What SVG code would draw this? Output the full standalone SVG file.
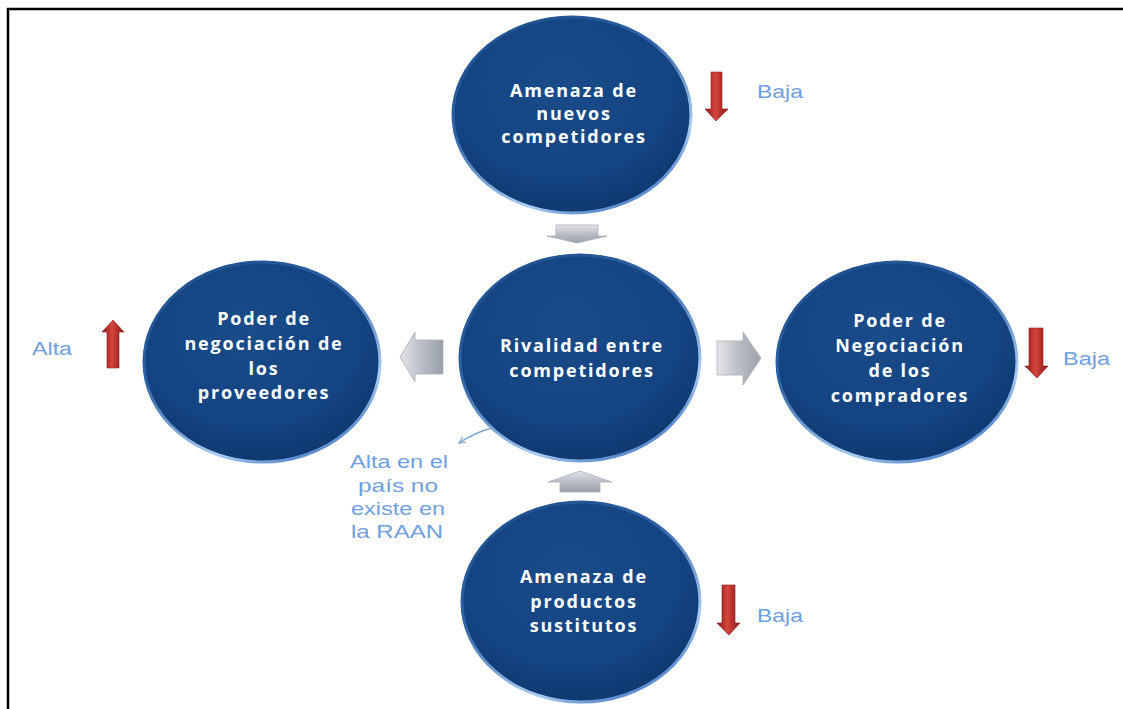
<svg xmlns="http://www.w3.org/2000/svg" width="1123" height="709" viewBox="0 0 1123 709">
<defs>
<style>
.node-fill{fill:url(#bluefill);stroke:url(#rim);stroke-width:3}
.ntxt{font-family:"Open Sans","Liberation Sans",sans-serif;font-weight:bold;font-size:18px;fill:#ffffff;text-anchor:middle;letter-spacing:1.8px}
.lbl{font-family:"Liberation Sans",Arial,sans-serif;font-size:18.5px;fill:#6f9fe0}
.gray{fill:url(#grayfill);stroke:#a9aeb7;stroke-width:0.8}
.red{fill:url(#redfill);stroke:#8e1c1c;stroke-width:0.6}
</style>
<radialGradient id="bluefill" cx="0.45" cy="0.35" r="0.7">
<stop offset="0" stop-color="#1a4c8a"/>
<stop offset="0.7" stop-color="#134380"/>
<stop offset="1" stop-color="#0d366d"/>
</radialGradient>
<linearGradient id="rim" x1="0" y1="0" x2="0.6" y2="1">
<stop offset="0" stop-color="#1a4a86"/>
<stop offset="0.45" stop-color="#2f63a6"/>
<stop offset="0.85" stop-color="#a9cdf2"/>
<stop offset="1" stop-color="#5f8fcf"/>
</linearGradient>
<linearGradient id="grayfill" x1="0" y1="0" x2="0" y2="1">
<stop offset="0" stop-color="#e3e5e9"/>
<stop offset="0.5" stop-color="#b9bdc5"/>
<stop offset="1" stop-color="#9aa0aa"/>
</linearGradient>
<linearGradient id="grayfillH" x1="0" y1="0" x2="1" y2="0">
<stop offset="0" stop-color="#e3e5e9"/>
<stop offset="0.5" stop-color="#b9bdc5"/>
<stop offset="1" stop-color="#9aa0aa"/>
</linearGradient>
<linearGradient id="redfill" x1="0" y1="0" x2="1" y2="0">
<stop offset="0" stop-color="#8a1616"/>
<stop offset="0.45" stop-color="#d4463c"/>
<stop offset="1" stop-color="#8a1616"/>
</linearGradient>
<marker id="openhead" viewBox="0 0 10 10" refX="9" refY="5" markerWidth="8" markerHeight="8" orient="auto-start-reverse" markerUnits="userSpaceOnUse">
<path d="M1,1 L9,5 L1,9" fill="none" stroke="#7fa6d8" stroke-width="1.4"/>
</marker>
</defs>

<rect width="1123" height="709" fill="#ffffff"/>
<g id="frame" stroke="#000000" stroke-width="2.5">
<line x1="7" y1="9" x2="1123" y2="9"/>
<line x1="8" y1="8" x2="8" y2="709"/>
</g>

<g id="connectors">
<path class="gray" d="M556,225 L598,225 L598,236 L607,236 L577,243 L547,236 L556,236 Z"/>
<path class="gray" style="fill:url(#grayfillH)" d="M443,340 L443,374 L415,374 L415,382 L400,357 L415,332 L415,340 Z"/>
<path class="gray" style="fill:url(#grayfillH)" d="M717,341 L717,375 L743,375 L743,385 L761,358 L743,332 L743,341 Z"/>
<path class="gray" d="M560,492 L600,492 L600,482 L612,482 L580,471 L548,482 L560,482 Z"/>
<path d="M492,428 Q476,432 459,443" fill="none" stroke="#7fa6d8" stroke-width="1.5" marker-end="url(#openhead)"/>
</g>

<g id="node-nuevos">
<ellipse class="node-fill" cx="572" cy="115" rx="119" ry="98"/>
<text class="ntxt" x="574" y="97">Amenaza de</text>
<text class="ntxt" x="574" y="120">nuevos</text>
<text class="ntxt" x="574" y="143">competidores</text>
</g>

<g id="node-rivalidad">
<ellipse class="node-fill" cx="580" cy="358" rx="120" ry="103"/>
<text class="ntxt" x="582" y="352">Rivalidad entre</text>
<text class="ntxt" x="582" y="377">competidores</text>
</g>

<g id="node-proveedores">
<ellipse class="node-fill" cx="262" cy="362" rx="118" ry="100"/>
<text class="ntxt" x="264" y="325">Poder de</text>
<text class="ntxt" x="264" y="350">negociación de</text>
<text class="ntxt" x="264" y="375">los</text>
<text class="ntxt" x="264" y="399">proveedores</text>
</g>

<g id="node-compradores">
<ellipse class="node-fill" cx="897" cy="362" rx="120" ry="100"/>
<text class="ntxt" x="900" y="327">Poder de</text>
<text class="ntxt" x="900" y="352">Negociación</text>
<text class="ntxt" x="900" y="377">de los</text>
<text class="ntxt" x="900" y="402">compradores</text>
</g>

<g id="node-sustitutos">
<ellipse class="node-fill" cx="581" cy="602" rx="119" ry="100"/>
<text class="ntxt" x="584" y="583">Amenaza de</text>
<text class="ntxt" x="584" y="608">productos</text>
<text class="ntxt" x="584" y="632">sustitutos</text>
</g>

<g id="indicator-nuevos">
<path class="red" d="M711,72 L722,72 L722,109 L728,109 L716,121 L705,109 L711,109 Z"/>
<text class="lbl" x="757" y="98" textLength="46" lengthAdjust="spacingAndGlyphs">Baja</text>
</g>

<g id="indicator-proveedores">
<path class="red" d="M107,368 L119,368 L119,332 L124,332 L113,320 L102,332 L107,332 Z"/>
<text class="lbl" x="32" y="355" textLength="40" lengthAdjust="spacingAndGlyphs">Alta</text>
</g>

<g id="indicator-compradores">
<path class="red" d="M1029,328 L1043,328 L1043,366 L1048,366 L1037,378 L1025,366 L1029,366 Z"/>
<text class="lbl" x="1063" y="365" textLength="47" lengthAdjust="spacingAndGlyphs">Baja</text>
</g>

<g id="indicator-sustitutos">
<path class="red" d="M722,585 L735,585 L735,623 L740,623 L729,635 L717,623 L722,623 Z"/>
<text class="lbl" x="757" y="622" textLength="46" lengthAdjust="spacingAndGlyphs">Baja</text>
</g>

<g id="note-rivalidad">
<text class="lbl" x="350" y="468" textLength="98" lengthAdjust="spacingAndGlyphs">Alta en el</text>
<text class="lbl" x="358" y="492" textLength="80" lengthAdjust="spacingAndGlyphs">país no</text>
<text class="lbl" x="351" y="515" textLength="94" lengthAdjust="spacingAndGlyphs">existe en</text>
<text class="lbl" x="351" y="538" textLength="92" lengthAdjust="spacingAndGlyphs">la RAAN</text>
</g>
</svg>
